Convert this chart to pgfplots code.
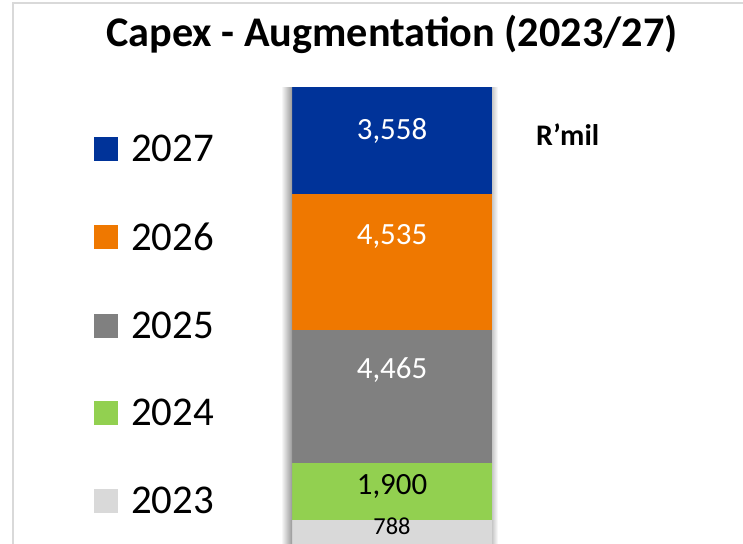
\documentclass[border=0pt]{standalone}
\usepackage{pgfplots}
\pgfplotsset{compat=1.18}
\usepackage{fontspec}
\setmainfont{Carlito}
\definecolor{c27}{HTML}{003399}
\definecolor{c26}{HTML}{EF7800}
\definecolor{c25}{HTML}{808080}
\definecolor{c24}{HTML}{92D050}
\definecolor{c23}{HTML}{D9D9D9}
\definecolor{framec}{HTML}{D9D9D9}
\begin{document}
\begin{tikzpicture}
\begin{axis}[
  scale only axis, width=743bp, height=544bp,
  xmin=0, xmax=743, ymin=0, ymax=18150,
  hide axis, clip=false,
  ybar stacked, bar width=200,
  point meta=explicit,
  nodes near coords={\pgfmathprintnumber[assume math mode=true, 1000 sep={,}]{\pgfplotspointmeta}},
  reverse legend,
  legend style={at={(axis cs:94,13713)}, anchor=north west, draw=none, fill=none,
    inner sep=0pt, row sep=55.75bp, column sep=11bp, legend columns=1,
    font=\fontsize{41}{49}\selectfont},
  legend cell align=left,
  legend image code/.code={\fill[#1] (0bp,-12bp) rectangle (24bp,12bp);},
]
\shade[left color=white, right color=black!40] (axis cs:281,0) rectangle (axis cs:292,15246);
\shade[left color=black!22, right color=white] (axis cs:492,0) rectangle (axis cs:498,15246);
\addplot[fill=c23, draw=none, nodes near coords style={anchor=base, yshift=-2.8bp, text=black, font=\fontsize{24.5}{30}\selectfont}] coordinates {(392,788) [788]};
\addlegendentry{2023}
\addplot[fill=c24, draw=none, nodes near coords style={anchor=base, yshift=-2.1bp, text=black, font=\fontsize{31}{38}\selectfont}] coordinates {(392,1900) [1900]};
\addlegendentry{2024}
\addplot[fill=c25, draw=none, nodes near coords style={anchor=base, yshift=18.5bp, text=white, font=\fontsize{31}{38}\selectfont}] coordinates {(392,4465) [4465]};
\addlegendentry{2025}
\addplot[fill=c26, draw=none, nodes near coords style={anchor=base, yshift=17.6bp, text=white, font=\fontsize{31}{38}\selectfont}] coordinates {(392,4535) [4535]};
\addlegendentry{2026}
\addplot[fill=c27, draw=none, nodes near coords style={anchor=base, yshift=1.3bp, text=white, font=\fontsize{31}{38}\selectfont}] coordinates {(392,3558) [3558]};
\addlegendentry{2027}
\draw[framec, line width=2.5bp] (axis cs:13,0) -- (axis cs:13,18050) -- (axis cs:743,18050);
\node[anchor=base, font=\bfseries\fontsize{42.4}{50}\selectfont] at (axis cs:392,16582) {Capex - Augmentation (2023/27)};
\node[anchor=base west, inner sep=0pt, font=\bfseries\fontsize{30}{36}\selectfont] at (axis cs:536,13312) {R’mil};
\end{axis}
\pgfresetboundingbox
\useasboundingbox (current axis.south west) rectangle (current axis.north east);
\end{tikzpicture}
\end{document}
